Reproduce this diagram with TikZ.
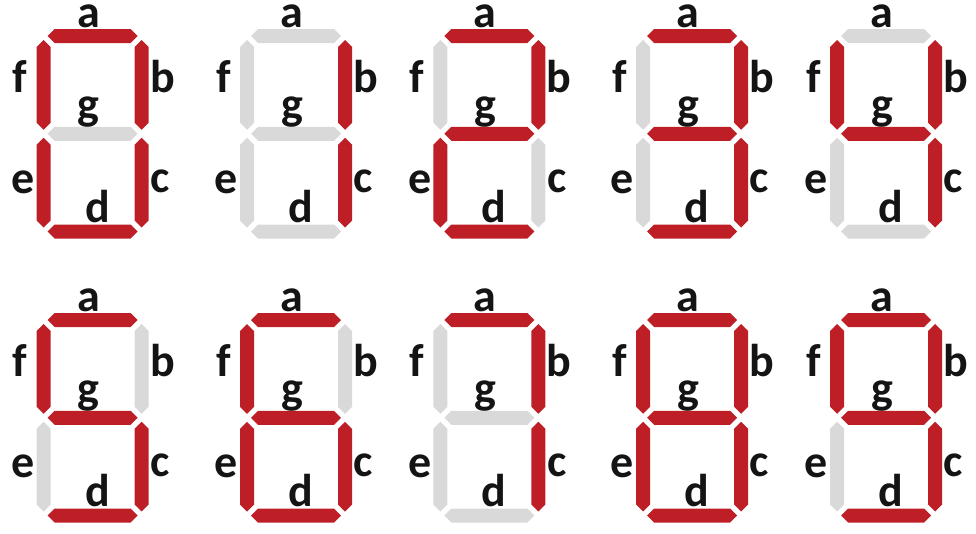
\documentclass[tikz,border=0pt]{standalone}
\usepackage{fontspec}
\setmainfont{Carlito}
\definecolor{segon}{RGB}{190,30,38}
\definecolor{segoff}{RGB}{217,217,217}
\tikzset{
  lbl/.style={anchor=base, inner sep=0pt, text=black!92,
    font=\fontsize{46}{46}\selectfont\bfseries},
}
% horizontal segment at local height #2
\newcommand\hsg[2]{\fill[#1] (11,#2) -- (18,#2-7) -- (94,#2-7) -- (101,#2) -- (94,#2+7) -- (18,#2+7) -- cycle;}
% vertical segment at column #2 from #3 to #4
\newcommand\vsg[4]{\fill[#1] (#2,#3) -- (#2+7,#3+7) -- (#2+7,#4-7) -- (#2,#4) -- (#2-7,#4-7) -- (#2-7,#3+7) -- cycle;}
% #1 id, #2..#8 colours of segments a b c d e f g
\newcommand\sevdigit[8]{%
  \hsg{#2}{0}
  \vsg{#3}{105}{4}{93.75}
  \vsg{#4}{105}{101.75}{191.5}
  \hsg{#5}{195.5}
  \vsg{#6}{7}{101.75}{191.5}
  \vsg{#7}{7}{4}{93.75}
  \hsg{#8}{97.75}
  \node[lbl] (#1a) at (52,-9) {a};
  \node[lbl] (#1b) at (126,56) {b};
  \node[lbl] (#1c) at (123.5,156) {c};
  \node[lbl] (#1d) at (61,186) {d};
  \node[lbl] (#1e) at (-13.5,157) {e};
  \node[lbl] (#1f) at (-16.5,56) {f};
  \node[lbl] (#1g) at (52,83) {g};
}
\begin{document}
\begin{tikzpicture}[x=1pt,y=-1pt]
\useasboundingbox (0,0) rectangle (976,533);
\begin{scope}[shift={(36.7,36)}]
  \sevdigit{d0}{segon}{segon}{segon}{segon}{segon}{segon}{segoff}
\end{scope}
\begin{scope}[shift={(240,36)}]
  \sevdigit{d1}{segoff}{segon}{segon}{segoff}{segoff}{segoff}{segoff}
\end{scope}
\begin{scope}[shift={(433.3,36)}]
  \sevdigit{d2}{segon}{segon}{segoff}{segon}{segon}{segoff}{segon}
\end{scope}
\begin{scope}[shift={(636,36)}]
  \sevdigit{d3}{segon}{segon}{segon}{segon}{segoff}{segoff}{segon}
\end{scope}
\begin{scope}[shift={(830,36)}]
  \sevdigit{d4}{segoff}{segon}{segon}{segoff}{segoff}{segon}{segon}
\end{scope}
\begin{scope}[shift={(36.7,320)}]
  \sevdigit{d5}{segon}{segoff}{segon}{segon}{segoff}{segon}{segon}
\end{scope}
\begin{scope}[shift={(240,320)}]
  \sevdigit{d6}{segon}{segoff}{segon}{segon}{segon}{segon}{segon}
\end{scope}
\begin{scope}[shift={(433.3,320)}]
  \sevdigit{d7}{segon}{segon}{segon}{segoff}{segoff}{segoff}{segoff}
\end{scope}
\begin{scope}[shift={(636,320)}]
  \sevdigit{d8}{segon}{segon}{segon}{segon}{segon}{segon}{segon}
\end{scope}
\begin{scope}[shift={(830,320)}]
  \sevdigit{d9}{segon}{segon}{segon}{segon}{segoff}{segon}{segon}
\end{scope}
\end{tikzpicture}
\end{document}
